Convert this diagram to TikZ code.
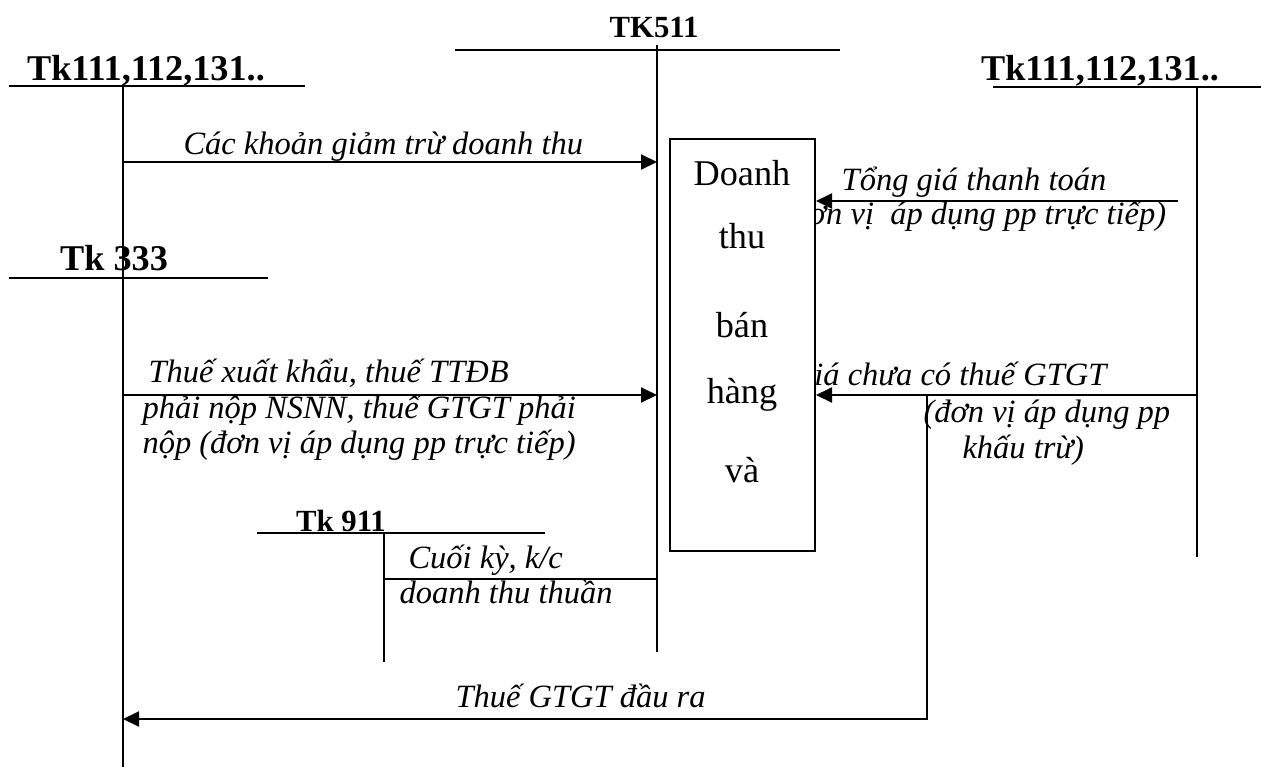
\documentclass[tikz,border=0pt]{standalone}
\usepackage{fontspec}
\setmainfont{Liberation Serif}
\usetikzlibrary{arrows.meta}
\tikzset{tline/.style={line width=0.8pt}}
\tikzset{flow/.style={tline,->}}
\tikzset{acct/.style={font=\bfseries\fontsize{14.5}{17}\selectfont,inner sep=0pt,anchor=base}}
\tikzset{acctsmall/.style={acct,font=\bfseries\fontsize{12.3}{14}\selectfont}}
\tikzset{note/.style={font=\itshape\fontsize{13}{15}\selectfont,inner sep=0pt,anchor=base west}}
\tikzset{revbox/.style={tline,draw,fill=white,inner sep=0pt,minimum width=58pt,minimum height=164.8pt}}
\tikzset{boxtext/.style={font=\fontsize{14.5}{17}\selectfont,inner sep=0pt,anchor=base}}

\begin{document}
\begin{tikzpicture}[x=0.4pt,y=-0.4pt,>={Triangle[length=6.4pt,width=6pt]}]
    \useasboundingbox (0,0) rectangle (1261,767);
    % T-accounts
    \coordinate (cashL-w) at (9,86);   \coordinate (cashL-e) at (305,86);
    \coordinate (cashL-t) at (123,86); \coordinate (cashL-b) at (123,767);
    \coordinate (rev-w) at (455,50);   \coordinate (rev-e) at (840,50);
    \coordinate (rev-t) at (657,45);   \coordinate (rev-b) at (657,652);
    \coordinate (cashR-w) at (993,87); \coordinate (cashR-e) at (1261,87);
    \coordinate (cashR-t) at (1197,87);\coordinate (cashR-b) at (1197,557);
    \coordinate (tax-w) at (9,278);    \coordinate (tax-e) at (268,278);
    \coordinate (res-w) at (257,533);  \coordinate (res-e) at (545,533);
    \coordinate (res-t) at (384,533);  \coordinate (res-b) at (384,662);
    \draw[tline] (cashL-w) -- (cashL-e) (cashL-t) -- (cashL-b);
    \draw[tline] (rev-w) -- (rev-e) (rev-t) -- (rev-b);
    \draw[tline] (cashR-w) -- (cashR-e) (cashR-t) -- (cashR-b);
    \draw[tline] (tax-w) -- (tax-e);
    \draw[tline] (res-w) -- (res-e) (res-t) -- (res-b);
    \node[acct] (cashL) at (146,80) {Tk111,112,131..};
    \node[acct] (cashR) at (1100,80) {Tk111,112,131..};
    \node[acct] (tax) at (114,270) {Tk 333};
    \node[acctsmall] (rev) at (654,37) {TK511};
    \node[acctsmall] (res) at (341,531) {Tk 911};

    % labels on the right (partly under the box)
    \node[note,anchor=base] (sum1) at (974,190) {Tổng giá thanh toán};
    \node[note,anchor=base] (sum2) at (974,224) {(đơn vị\ \ áp dụng pp trực tiếp)};
    \node[note,anchor=base east] (net1) at (1107,385) {Giá chưa có thuế GTGT};
    \node[note] (net2) at (923,422) {(đơn vị áp dụng pp};
    \node[note] (net3) at (962,458) {khấu trừ)};

    % the revenue box
    \node[revbox] (dt) at (742.5,345) {};
    \foreach \w/\y [count=\i] in {Doanh/185,thu/248,bán/337,hàng/403,và/482}{%
        \node[boxtext] (bt\i) at (742,\y) {\w};
    }

    % flows
    \coordinate (c1a) at (123,162); \coordinate (c1b) at (657,162);
    \draw[flow] (c1a) -- (c1b);
    \node[note] (lb1) at (183,154) {Các khoản giảm trừ doanh thu};

    \coordinate (c2a) at (1178,201);
    \draw[flow] (c2a) -- (c2a -| dt.east);

    \coordinate (c3a) at (123,395); \coordinate (c3b) at (657,395);
    \draw[flow] (c3a) -- (c3b);
    \node[note] (lb3a) at (148,382) {Thuế xuất khẩu, thuế TTĐB};
    \node[note] (lb3b) at (142,418) {phải nộp NSNN, thuế GTGT phải};
    \node[note] (lb3c) at (142,453) {nộp (đơn vị áp dụng pp trực tiếp)};

    \coordinate (c4a) at (1197,395);
    \draw[flow] (c4a) -- (c4a -| dt.east);

    \coordinate (c5a) at (384,579); \coordinate (c5b) at (657,579);
    \draw[tline] (c5a) -- (c5b);
    \node[note] (lb5a) at (408,568) {Cuối kỳ, k/c};
    \node[note] (lb5b) at (399,603) {doanh thu thuần};

    \coordinate (c6a) at (927,395); \coordinate (c6b) at (927,719);
    \coordinate (c6c) at (123,719);
    \draw[flow] (c6a) -- (c6b) -- (c6c);
    \node[note] (lb6) at (455,707) {Thuế GTGT đầu ra};
\end{tikzpicture}
\end{document}
